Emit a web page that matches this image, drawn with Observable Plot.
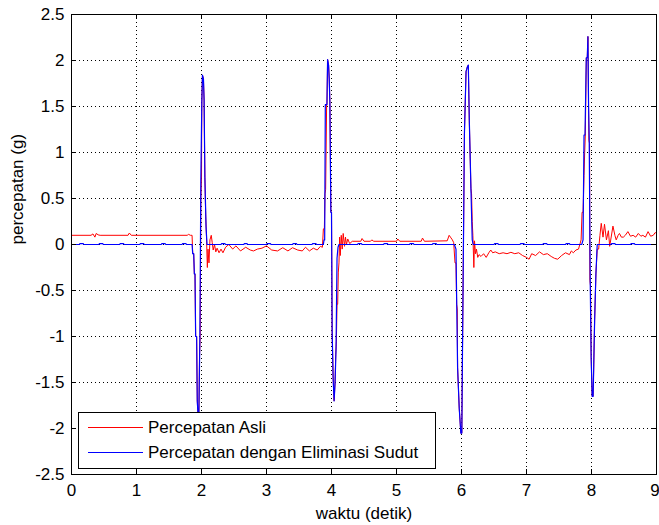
<!DOCTYPE html>
<html><head><meta charset="utf-8">
<script src="https://cdn.jsdelivr.net/npm/d3@7"></script>
<script src="https://cdn.jsdelivr.net/npm/@observablehq/plot@0.6"></script>
<style>
html,body{margin:0;padding:0;background:#fff;}
#chart{position:relative;width:659px;height:525px;}
</style></head><body><div id="chart"></div>
<script>
const xTicks = [0,1,2,3,4,5,6,7,8,9];
const yTicks = [-2.5,-2,-1.5,-1,-0.5,0,0.5,1,1.5,2,2.5];
const xLabel = "waktu (detik)";
const yLabel = "percepatan (g)";
const seriesNames = ["Percepatan Asli","Percepatan dengan Eliminasi Sudut"];
const seriesColors = ["#ff0000","#0000ff"];

// [waktu, percepatan] – Percepatan Asli (red)
const percepatanAsli = [
[0,0.1],[0.3,0.1],[0.33,0.115],[0.36,0.08],[0.38,0.12],[0.41,0.105],[0.44,0.1],[0.87,0.1],[0.89,0.125],[0.92,0.1],[1.78,0.1],[1.8,0.11],[1.83,0.1],[1.855,0.1],
[1.865,-0.1],[1.88,-0.1],[1.89,-0.32],[1.9,-0.32],[1.91,-1.0],[1.925,-1.0],[1.935,-1.7],[1.945,-1.83],[1.96,-1.83],[1.97,-1.2],[1.98,-1.0],[1.99,0.5],[2.0,0.72],[2.005,1.55],[2.015,1.84],[2.03,1.8],[2.04,1.57],[2.052,0.73],[2.065,0.3],[2.075,0.12],[2.09,-0.25],[2.1,-0.05],[2.115,-0.2],[2.13,0.05],[2.15,0.1],[2.165,0.02],[2.18,-0.06],[2.2,0.0],[2.22,-0.08],[2.24,-0.04],[2.27,-0.09],[2.3,-0.05],[2.33,-0.09],[2.37,-0.03],[2.42,0.0],[2.48,-0.05],[2.53,-0.015],[2.6,-0.07],[2.68,-0.03],[2.75,-0.06],[2.8,-0.07],[2.86,-0.05],[2.93,-0.04],[3.0,-0.015],[3.08,-0.06],[3.17,-0.07],[3.25,-0.035],[3.33,-0.07],[3.4,-0.035],[3.48,-0.06],[3.55,-0.07],[3.6,-0.03],[3.66,-0.07],[3.72,-0.04],[3.78,-0.06],[3.83,-0.02],[3.86,-0.03],
[3.875,0.17],[3.89,0.17],[3.9,0.55],[3.91,0.6],[3.925,1.52],[3.93,1.52],[3.94,2.01],[3.955,1.95],[3.965,1.8],[3.975,1.55],[3.99,0.35],[4.0,0.35],[4.01,-0.94],[4.025,-1.45],[4.04,-1.7],[4.055,-1.5],[4.065,-1.2],[4.075,-1.05],[4.085,-0.65],[4.095,-0.65],[4.105,-0.3],[4.115,-0.2],[4.125,0.08],[4.135,-0.12],[4.15,0.1],[4.165,-0.05],[4.18,0.12],[4.2,-0.02],[4.215,0.08],[4.23,0.0],[4.25,0.06],[4.28,0.01],[4.32,0.035],[4.45,0.035],[4.47,0.065],[4.5,0.035],[4.6,0.035],[4.62,0.05],[4.65,0.035],[5.0,0.035],[5.02,0.06],[5.05,0.035],[5.38,0.035],[5.4,0.07],[5.43,0.035],[5.78,0.04],[5.81,0.1],[5.83,0.08],[5.86,0.05],[5.88,0.02],
[5.9,-0.2],[5.915,-0.2],[5.925,-0.65],[5.935,-0.7],[5.94,-1.34],[5.965,-1.78],[5.99,-2.05],[6.005,-2.05],[6.015,-1.17],[6.03,0.0],[6.045,1.21],[6.07,1.88],[6.09,1.93],[6.105,1.95],[6.12,1.35],[6.145,0.61],[6.155,0.55],[6.165,0.25],[6.175,0.1],[6.19,-0.25],[6.2,0.04],[6.215,-0.1],[6.23,-0.05],[6.25,-0.14],[6.27,-0.11],[6.3,-0.13],[6.34,-0.1],[6.38,-0.14],[6.42,-0.09],[6.45,-0.06],[6.48,-0.09],[6.52,-0.08],[6.58,-0.1],[6.64,-0.09],[6.7,-0.1],[6.76,-0.085],[6.82,-0.1],[6.88,-0.09],[6.94,-0.12],[7.0,-0.14],[7.04,-0.16],[7.08,-0.1],[7.14,-0.12],[7.2,-0.08],[7.26,-0.11],[7.32,-0.1],[7.38,-0.13],[7.43,-0.15],[7.48,-0.16],[7.54,-0.12],[7.6,-0.09],[7.66,-0.11],[7.69,-0.07],[7.72,-0.09],[7.76,-0.06],[7.8,-0.05],
[7.82,0.0],[7.84,0.05],[7.855,0.35],[7.87,0.35],[7.885,0.75],[7.895,1.0],[7.905,1.19],[7.92,2.03],[7.935,2.03],[7.945,2.26],[7.955,1.5],[7.96,1.13],[7.97,1.1],[7.975,-0.39],[7.985,-0.45],[7.995,-1.23],[8.01,-1.65],[8.025,-1.65],[8.035,-1.3],[8.048,-0.83],[8.068,-0.32],[8.088,-0.05],[8.11,-0.05],[8.13,0.1],[8.15,0.23],[8.177,0.08],[8.2,0.22],[8.23,0.05],[8.26,0.15],[8.28,-0.02],[8.33,0.2],[8.36,0.1],[8.38,0.05],[8.41,0.1],[8.43,0.12],[8.46,0.08],[8.49,0.08],[8.52,0.1],[8.56,0.14],[8.6,0.09],[8.64,0.1],[8.68,0.08],[8.72,0.12],[8.76,0.09],[8.79,0.1],[8.83,0.08],[8.87,0.14],[8.91,0.09],[8.95,0.1],[8.98,0.13],[9,0.12]
];

// [waktu, percepatan] – Percepatan dengan Eliminasi Sudut (blue)
const percepatanEliminasi = [
[0,0],[0.12,0],[0.13,0.01],[0.18,0.01],[0.19,0],[0.42,0],[0.43,0.01],[0.48,0.01],[0.49,0],[0.74,0],[0.75,0.01],[0.8,0.01],[0.81,0],[1.05,0],[1.06,0.01],[1.11,0.01],[1.12,0],[1.38,0],[1.39,0.01],[1.44,0.01],[1.45,0],[1.7,0],[1.71,0.01],[1.76,0.01],[1.77,0],[1.855,0],
[1.865,-0.1],[1.88,-0.1],[1.89,-0.32],[1.9,-0.32],[1.91,-1.0],[1.925,-1.0],[1.935,-1.7],[1.945,-1.83],[1.96,-1.83],[1.975,-1.0],[1.99,0.7],[2.005,1.55],[2.015,1.84],[2.03,1.8],[2.04,1.57],[2.052,0.73],[2.07,0.19],[2.085,0],
[2.3,0],[2.31,0.01],[2.36,0.01],[2.37,0],[2.65,0],[2.66,0.01],[2.7,0.01],[2.71,0],[3.0,0],[3.01,0.01],[3.06,0.01],[3.07,0],[3.4,0],[3.41,0.01],[3.46,0.01],[3.47,0],[3.7,0],[3.71,0.01],[3.76,0.01],[3.77,0],[3.875,0],
[3.885,0.05],[3.895,0.05],[3.905,1.52],[3.93,1.52],[3.94,2.01],[3.955,1.95],[3.965,1.8],[3.975,1.55],[3.99,0.35],[4.0,0.35],[4.01,-0.94],[4.025,-1.45],[4.04,-1.7],[4.055,-1.5],[4.07,-1.13],[4.085,-0.15],[4.1,-0.03],[4.115,0],
[4.4,0],[4.41,0.01],[4.46,0.01],[4.47,0],[4.8,0],[4.81,0.01],[4.86,0.01],[4.87,0],[5.2,0],[5.21,0.01],[5.26,0.01],[5.27,0],[5.55,0],[5.56,0.01],[5.61,0.01],[5.62,0],[5.89,0],
[5.915,-0.05],[5.94,-1.34],[5.965,-1.78],[5.99,-2.05],[6.005,-2.05],[6.015,-1.17],[6.03,0.0],[6.045,1.21],[6.07,1.88],[6.09,1.93],[6.105,1.95],[6.12,1.35],[6.145,0.61],[6.165,0.05],[6.18,0],
[6.5,0],[6.51,0.01],[6.56,0.01],[6.57,0],[6.9,0],[6.91,0.01],[6.96,0.01],[6.97,0],[7.25,0],[7.26,0.01],[7.31,0.01],[7.32,0],[7.6,0],[7.61,0.01],[7.66,0.01],[7.67,0],[7.85,0],
[7.87,0.05],[7.885,1.19],[7.9,1.19],[7.92,2.03],[7.935,2.03],[7.945,2.26],[7.955,1.5],[7.965,1.14],[7.98,-0.39],[7.995,-1.23],[8.01,-1.65],[8.025,-1.65],[8.035,-1.3],[8.048,-0.83],[8.068,-0.32],[8.088,0],
[8.3,0],[8.31,0.01],[8.36,0.01],[8.37,0],[8.6,0],[8.61,0.01],[8.66,0.01],[8.67,0],[9,0]
];

const W = 659, H = 525, mL = 71, mR = 3, mT = 14, mB = 51;
const frameW = W - mL - mR, frameH = H - mT - mB;
const fmt = d => String(d);
const FONT = "'Liberation Sans', Arial, Helvetica, sans-serif";

const plot = Plot.plot({
  width: W, height: H,
  marginLeft: mL, marginRight: mR, marginTop: mT, marginBottom: mB,
  style: {fontFamily: FONT, fontSize: "17px", color: "#000", background: "#fff"},
  x: {domain: [0, 9], label: null},
  y: {domain: [-2.5, 2.5], label: null},
  marks: [
    Plot.ruleX(xTicks.slice(1, -1), {stroke: "#000", strokeDasharray: "1,3"}),
    Plot.ruleY(yTicks.slice(1, -1), {stroke: "#000", strokeDasharray: "1,3"}),
    Plot.line(percepatanAsli, {x: d => d[0], y: d => d[1], stroke: seriesColors[0], strokeWidth: 1}),
    Plot.line(percepatanEliminasi, {x: d => d[0], y: d => d[1], stroke: seriesColors[1], strokeWidth: 1.2}),
    Plot.ruleX(xTicks, {insetTop: frameH - 5, stroke: "#000"}),
    Plot.ruleX(xTicks, {insetBottom: frameH - 5, stroke: "#000"}),
    Plot.ruleY(yTicks, {insetRight: frameW - 5, stroke: "#000"}),
    Plot.ruleY(yTicks, {insetLeft: frameW - 5, stroke: "#000"}),
    Plot.frame({stroke: "#000"}),
    Plot.axisX(xTicks.slice(0, -1), {tickSize: 0, tickPadding: 9, tickFormat: fmt, label: null, fill: "#000"}),
    Plot.axisX(xTicks.slice(-1), {tickSize: 0, tickPadding: 9, tickFormat: fmt, label: null, fill: "#000", dx: -1.5}),
    Plot.axisY(yTicks, {tickSize: 0, tickPadding: 7, tickFormat: fmt, label: null, fill: "#000"}),
    Plot.text([xLabel], {text: d => d, frameAnchor: "bottom", dy: 39, lineAnchor: "middle", fill: "#000"}),
    Plot.text([yLabel], {text: d => d, frameAnchor: "left", dx: -54, rotate: -90, fill: "#000"})
  ]
});

// legend box inside plot (bottom-left)
const svg = d3.select(plot);
const lg = svg.append("g").attr("font-family", FONT).attr("font-size", 17).attr("text-anchor", "start");
lg.append("rect").attr("x", 78.5).attr("y", 412.5).attr("width", 357).attr("height", 56)
  .attr("fill", "#fff").attr("stroke", "#000").attr("stroke-width", 1);
const rowsY = [427.5, 452.5];
seriesNames.forEach((name, i) => {
  lg.append("line").attr("x1", 88).attr("x2", 143).attr("y1", rowsY[i]).attr("y2", rowsY[i])
    .attr("stroke", seriesColors[i]).attr("stroke-width", 1);
  lg.append("text").attr("x", 148).attr("y", rowsY[i]).attr("dy", "0.35em")
    .attr("text-anchor", "start").attr("fill", "#000").text(name);
});

document.getElementById("chart").appendChild(plot);
</script>
</body></html>
